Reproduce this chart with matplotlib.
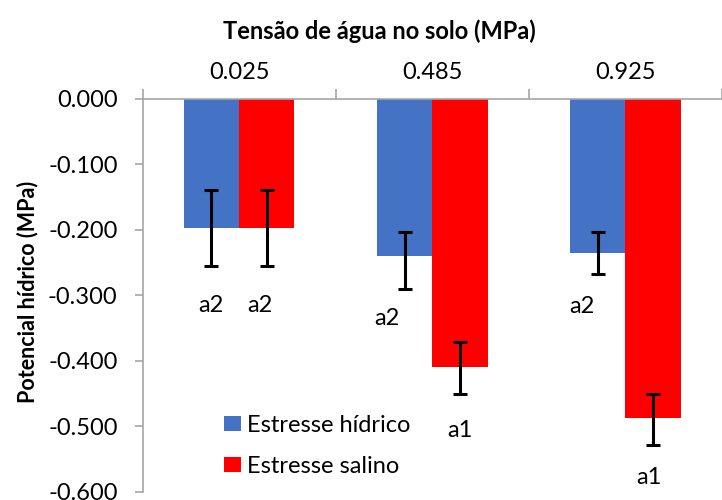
import matplotlib.pyplot as plt
import numpy as np

# fonte parecida com Calibri
plt.rcParams['font.family'] = ['Lato', 'DejaVu Sans']

# dados
tensao = ["0.025", "0.485", "0.925"]
series = ["Estresse hídrico", "Estresse salino"]
hidrico = [-0.197, -0.240, -0.235]
salino = [-0.197, -0.410, -0.488]
# barras de erro (para baixo / para cima)
hidrico_err_baixo = [0.058, 0.050, 0.033]
hidrico_err_cima = [0.058, 0.036, 0.031]
salino_err_baixo = [0.058, 0.041, 0.040]
salino_err_cima = [0.058, 0.038, 0.037]
# letras de significância
letras_hidrico = ["a2", "a2", "a2"]
letras_salino = ["a2", "a1", "a1"]

cor_azul = "#4472C4"
cor_verm = "#FF0000"
cinza = "#A6A6A6"

fig = plt.figure(figsize=(7.22, 5.0), dpi=100)
ax = fig.add_axes([0.1974, 0.0166, 0.8026, 0.786])

x = np.arange(len(tensao))
w = 0.286

ax.bar(x - w / 2, hidrico, w, color=cor_azul, label=series[0], zorder=2)
ax.bar(x + w / 2, salino, w, color=cor_verm, label=series[1], zorder=2)

ax.errorbar(x - w / 2, hidrico, yerr=[hidrico_err_baixo, hidrico_err_cima],
            fmt='none', ecolor='black', elinewidth=2.2, capsize=4.8, capthick=2.2, zorder=3)
ax.errorbar(x + w / 2, salino, yerr=[salino_err_baixo, salino_err_cima],
            fmt='none', ecolor='black', elinewidth=2.2, capsize=4.8, capthick=2.2, zorder=3)

# posição das letras (deslocamento em x, posição em y)
desl_hidrico = [(-0.002, -0.315), (-0.094, -0.335), (-0.084, -0.317)]
desl_salino = [(-0.033, -0.315), (0.002, -0.507), (-0.023, -0.578)]
for i in range(len(tensao)):
    ax.text(x[i] - w / 2 + desl_hidrico[i][0], desl_hidrico[i][1], letras_hidrico[i],
            ha='center', va='center', fontsize=17)
    ax.text(x[i] + w / 2 + desl_salino[i][0], desl_salino[i][1], letras_salino[i],
            ha='center', va='center', fontsize=17)

ax.set_xlim(-0.5, 2.4566)
ax.set_ylim(-0.6, 0.0)
yt = np.arange(-0.6, 0.001, 0.1)
ax.set_yticks(yt)
ax.set_yticklabels(["{:.3f}".format(v) if abs(v) > 1e-9 else "0.000" for v in yt],
                   fontsize=17)

# eixo x no topo: marcas nas divisas, rótulos no centro
ax.xaxis.tick_top()
ax.set_xticks([-0.5, 0.5, 1.5, 2.5])
ax.set_xticklabels([])
ax.set_xticks(x, minor=True)
ax.set_xticklabels(tensao, minor=True, fontsize=17)
ax.tick_params(axis='x', which='major', direction='out', length=7, color=cinza, width=1.2)
ax.tick_params(axis='x', which='minor', length=0, pad=11)
ax.tick_params(axis='y', direction='out', length=6, color=cinza, width=1.2, pad=12)

for s in ['right', 'bottom']:
    ax.spines[s].set_visible(False)
for s in ['left', 'top']:
    ax.spines[s].set_color(cinza)
    ax.spines[s].set_linewidth(1.2)

fig.text(0.526, 0.938, "Tensão de água no solo (MPa)", ha='center', va='center',
         fontsize=17, fontweight='bold')
fig.text(0.038, 0.416, "Potencial hídrico (MPa)", ha='center', va='center',
         rotation=90, fontsize=15.5, fontweight='bold')

ax.legend(loc='lower left', bbox_to_anchor=(0.12, 0.007), frameon=False, fontsize=17,
          borderpad=0, handlelength=0.72, handleheight=0.6, handletextpad=0.25,
          labelspacing=0.85)

fig.savefig("out.png", dpi=100)
